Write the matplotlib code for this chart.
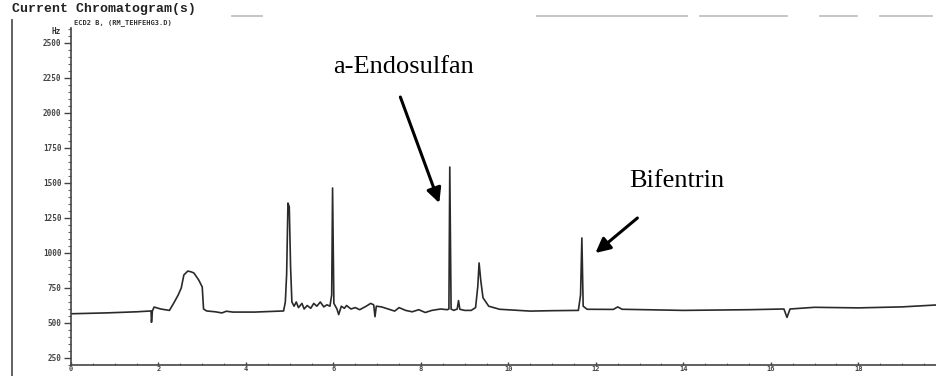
import matplotlib

matplotlib.use("Agg")
import matplotlib.pyplot as plt
from matplotlib.lines import Line2D
from matplotlib.ticker import MultipleLocator

# retention time [min] and detector signal [Hz]
times = [
    0.00, 0.80, 1.50, 1.83, 1.84, 1.86, 1.90, 2.05, 2.25, 2.35, 2.45, 2.52,
    2.58, 2.67, 2.75, 2.81, 2.92, 3.00, 3.03, 3.10, 3.30, 3.45, 3.55, 3.70,
    4.20, 4.86, 4.90, 4.93, 4.96, 4.99, 5.02, 5.05, 5.10, 5.15, 5.20, 5.28,
    5.33, 5.40, 5.48, 5.55, 5.62, 5.70, 5.78, 5.85, 5.92, 5.96, 5.98, 6.01,
    6.08, 6.12, 6.18, 6.25, 6.30, 6.40, 6.50, 6.60, 6.75, 6.85, 6.92, 6.95,
    6.98, 7.10, 7.25, 7.40, 7.50, 7.65, 7.80, 7.95, 8.10, 8.25, 8.45, 8.60,
    8.64, 8.66, 8.69, 8.75, 8.83, 8.86, 8.89, 9.00, 9.15, 9.25, 9.30, 9.33,
    9.37, 9.42, 9.55, 9.80, 10.50, 11.00, 11.60, 11.65, 11.68, 11.71, 11.80,
    12.40, 12.50, 12.60, 14.00, 15.50, 16.30, 16.37, 16.44, 17.00, 18.00,
    19.00, 19.80,
]
signal = [
    566, 572, 580, 586, 505, 586, 614, 600, 590, 643, 700, 750,
    843, 871, 865, 857, 807, 757, 600, 586, 580, 572, 584, 578,
    578, 586, 650, 850, 1357, 1330, 900, 650, 620, 650, 610, 640,
    600, 625, 605, 640, 620, 650, 615, 630, 620, 700, 1464, 640,
    600, 560, 620, 605, 625, 600, 610, 595, 620, 640, 630, 545,
    620, 615, 600, 585, 610, 590, 580, 595, 575, 590, 600, 595,
    600, 1614, 600, 590, 600, 660, 598, 590, 590, 610, 760, 929,
    800, 680, 620, 598, 585, 588, 590, 700, 1107, 620, 598,
    597, 615, 598, 590, 595, 600, 540, 600, 612, 608,
    615, 629,
]

x_ticks = [0, 2, 4, 6, 8, 10, 12, 14, 16, 18]
y_ticks = [250, 500, 750, 1000, 1250, 1500, 1750, 2000, 2250, 2500]

TICK_FONT = dict(family="DejaVu Sans Mono", fontweight="bold", fontsize=5.5, color="#333333")

fig = plt.figure(figsize=(9.37, 3.76), dpi=100)
# axes box: left spine at x=71 px, bottom spine at y=365 px, top at y=28 px
ax = fig.add_axes([0.0758, 11 / 376, 0.9242, 337 / 376])

ax.plot(times, signal, color="#2a2a2a", lw=1.2)

ax.set_xlim(0, 19.8)
ax.set_ylim(200, 2607)
ax.set_xticks(x_ticks)
ax.set_yticks(y_ticks)
ax.xaxis.set_minor_locator(MultipleLocator(0.5))
ax.yaxis.set_minor_locator(MultipleLocator(50))
ax.set_xticklabels([str(v) for v in x_ticks], **{**TICK_FONT, "fontsize": 5})
ax.set_yticklabels([str(v) for v in y_ticks], **TICK_FONT)
ax.tick_params(axis="y", which="major", direction="out", length=5, width=1, pad=2, colors="#444444")
ax.tick_params(axis="y", which="minor", direction="out", length=2.5, width=0.8, colors="#666666")
ax.tick_params(axis="x", which="major", direction="in", length=2.5, width=1, pad=0.5, colors="#444444")
ax.tick_params(axis="x", which="minor", direction="in", length=1.5, width=0.8, colors="#777777")
for side in ["top", "right"]:
    ax.spines[side].set_visible(False)
for side in ["left", "bottom"]:
    ax.spines[side].set_color("#444444")
    ax.spines[side].set_linewidth(1.2)

ax.text(-0.012, 0.99, "Hz", transform=ax.transAxes, ha="right", va="center", **TICK_FONT)

# peak labels
arrow_style = dict(arrowstyle="-|>", lw=2.2, color="black", mutation_scale=22, shrinkA=0, shrinkB=0)
ax.annotate("", xy=(8.42, 1357), xytext=(7.53, 2114), arrowprops=arrow_style)
ax.text(6.0, 2329, "a-Endosulfan", family="Liberation Serif", fontsize=19, ha="left", va="center")
ax.annotate("", xy=(11.99, 1000), xytext=(12.95, 1250), arrowprops=arrow_style)
ax.text(12.76, 1514, "Bifentrin", family="Liberation Serif", fontsize=19, ha="left", va="center")

# report header and frame lines
fig.text(12 / 937, 1 - 9 / 376, "Current Chromatogram(s)", family="Liberation Mono",
         fontweight="bold", fontsize=9.5, ha="left", va="center", color="#222222")
fig.text(74 / 937, 1 - 23 / 376, "ECD2 B, (RM_TEHFEHG3.D)", family="DejaVu Sans Mono",
         fontweight="bold", fontsize=5, ha="left", va="center", color="#333333")
fig.add_artist(Line2D([12 / 937, 12 / 937], [0, 1 - 20 / 376], color="#555555", lw=1.3))
for x0, x1 in [(232, 262), (537, 687), (700, 787), (820, 857), (880, 932)]:
    fig.add_artist(Line2D([x0 / 937, x1 / 937], [1 - 16 / 376, 1 - 16 / 376], color="#bbbbbb", lw=1.2))

fig.savefig("out.png", dpi=100)
